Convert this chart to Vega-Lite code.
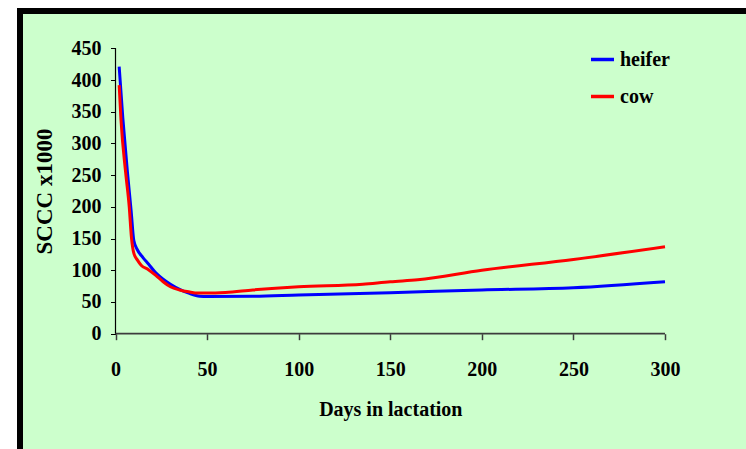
{
  "$schema": "https://vega.github.io/schema/vega-lite/v6.json",
  "autosize": "none",
  "padding": {"left": 20, "top": 11, "right": -3, "bottom": -3},
  "width": 729,
  "height": 441,
  "background": "white",
  "config": {
    "view": {"fill": "#CCFFCC", "stroke": "black", "strokeWidth": 6},
    "font": "Liberation Serif"
  },
  "datasets": {
    "curves": [
      {"day": 2, "scc": 421, "group": "heifer"},
      {"day": 4, "scc": 340, "group": "heifer"},
      {"day": 6.5, "scc": 255, "group": "heifer"},
      {"day": 8.5, "scc": 195, "group": "heifer"},
      {"day": 10, "scc": 147, "group": "heifer"},
      {"day": 12, "scc": 132, "group": "heifer"},
      {"day": 15, "scc": 120, "group": "heifer"},
      {"day": 18, "scc": 110, "group": "heifer"},
      {"day": 22, "scc": 96, "group": "heifer"},
      {"day": 26, "scc": 86, "group": "heifer"},
      {"day": 30, "scc": 78, "group": "heifer"},
      {"day": 35, "scc": 70, "group": "heifer"},
      {"day": 40, "scc": 64, "group": "heifer"},
      {"day": 46, "scc": 59, "group": "heifer"},
      {"day": 50, "scc": 58.5, "group": "heifer"},
      {"day": 75, "scc": 59, "group": "heifer"},
      {"day": 100, "scc": 61, "group": "heifer"},
      {"day": 150, "scc": 64.5, "group": "heifer"},
      {"day": 175, "scc": 67, "group": "heifer"},
      {"day": 200, "scc": 69, "group": "heifer"},
      {"day": 250, "scc": 72.5, "group": "heifer"},
      {"day": 300, "scc": 82, "group": "heifer"},
      {"day": 2, "scc": 392, "group": "cow"},
      {"day": 3, "scc": 337, "group": "cow"},
      {"day": 5.5, "scc": 255, "group": "cow"},
      {"day": 7.5, "scc": 200, "group": "cow"},
      {"day": 8.7, "scc": 152, "group": "cow"},
      {"day": 10, "scc": 127, "group": "cow"},
      {"day": 12, "scc": 116, "group": "cow"},
      {"day": 14, "scc": 108, "group": "cow"},
      {"day": 18, "scc": 101, "group": "cow"},
      {"day": 22, "scc": 92, "group": "cow"},
      {"day": 26, "scc": 82, "group": "cow"},
      {"day": 30, "scc": 74, "group": "cow"},
      {"day": 35, "scc": 69, "group": "cow"},
      {"day": 40, "scc": 66, "group": "cow"},
      {"day": 45, "scc": 64, "group": "cow"},
      {"day": 50, "scc": 64, "group": "cow"},
      {"day": 60, "scc": 65, "group": "cow"},
      {"day": 75, "scc": 69, "group": "cow"},
      {"day": 100, "scc": 74, "group": "cow"},
      {"day": 135, "scc": 78, "group": "cow"},
      {"day": 150, "scc": 82, "group": "cow"},
      {"day": 165, "scc": 85, "group": "cow"},
      {"day": 200, "scc": 100, "group": "cow"},
      {"day": 250, "scc": 117, "group": "cow"},
      {"day": 300, "scc": 137, "group": "cow"}
    ],
    "xline": [{"day": 0, "day2": 300, "scc": 0, "scc2": 0}],
    "yline": [{"day": 0, "day2": 0, "scc": 0, "scc2": 450}]
  },
  "layer": [
    {
      "data": {"name": "xline"},
      "mark": {"type": "rule", "color": "#3c3c3c", "strokeWidth": 1.8},
      "encoding": {
        "x": {"field": "day", "type": "quantitative",
          "scale": {"domain": [-52.14, 345.86], "nice": false, "zero": false},
          "axis": {"orient": "bottom", "offset": -118.3, "values": [0, 50, 100, 150, 200, 250, 300], "domain": false, "grid": false, "tickSize": 6, "tickColor": "#3c3c3c", "tickWidth": 1.5, "labelFont": "Liberation Serif", "labelFontWeight": "bold", "labelFontSize": 20, "labelColor": "black", "labelBaseline": "alphabetic", "labelPadding": 36, "labelFlush": false, "labelOverlap": false, "title": "Days in lactation", "titleFont": "Liberation Serif", "titleFontWeight": "bold", "titleFontSize": 20, "titleColor": "black", "titleX": 370.3, "titleY": 82, "titleBaseline": "alphabetic"}},
        "x2": {"field": "day2"},
        "y": {"field": "scc", "type": "quantitative",
          "scale": {"domain": [-186.5, 508.8], "nice": false, "zero": false},
          "axis": {"orient": "left", "offset": -95.5, "values": [0, 50, 100, 150, 200, 250, 300, 350, 400, 450], "domain": false, "grid": false, "tickSize": 5, "tickColor": "black", "tickWidth": 1, "labelFont": "Liberation Serif", "labelFontWeight": "bold", "labelFontSize": 20, "labelColor": "black", "labelBaseline": "middle", "labelPadding": 9.5, "labelOverlap": false, "title": "SCCC x1000", "titleFont": "Liberation Serif", "titleFontWeight": "bold", "titleFontSize": 23, "titleColor": "black", "titleX": -71, "titleY": 180, "titleBaseline": "middle", "titleAngle": -90}},
        "y2": {"field": "scc2"}
      }
    },
    {
      "data": {"name": "yline"},
      "mark": {"type": "rule", "color": "black", "strokeWidth": 1.2},
      "encoding": {
        "x": {"field": "day", "type": "quantitative"},
        "x2": {"field": "day2"},
        "y": {"field": "scc", "type": "quantitative"},
        "y2": {"field": "scc2"}
      }
    },
    {
      "data": {"name": "curves"},
      "mark": {"type": "line", "interpolate": "monotone", "strokeWidth": 3},
      "encoding": {
        "x": {"field": "day", "type": "quantitative"},
        "y": {"field": "scc", "type": "quantitative"},
        "color": {"field": "group", "type": "nominal",
          "scale": {"domain": ["heifer", "cow"], "range": ["#0000FF", "#FF0000"]},
          "legend": {"orient": "none", "legendX": 569, "legendY": 35, "title": null, "symbolType": "stroke", "symbolSize": 530, "symbolStrokeWidth": 3.5, "labelFont": "Liberation Serif", "labelFontWeight": "bold", "labelFontSize": 20, "labelColor": "black", "labelOffset": 4, "rowPadding": 13, "padding": 0}}
      }
    }
  ]
}
